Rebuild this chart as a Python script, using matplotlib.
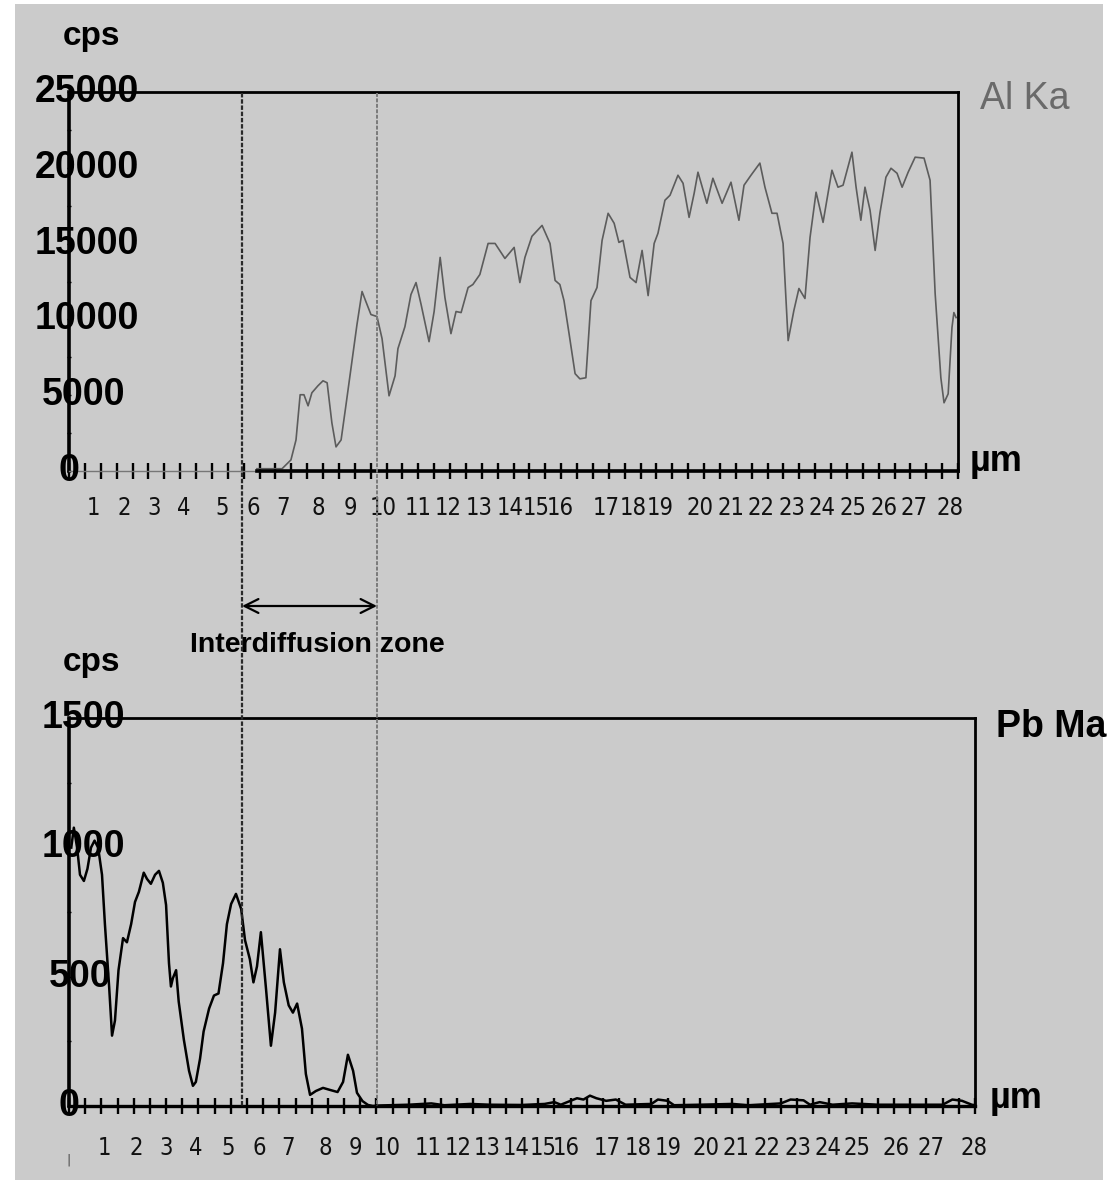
import matplotlib
matplotlib.use("Agg")
import matplotlib.pyplot as plt
from matplotlib.patches import Rectangle, FancyArrowPatch
from matplotlib.ticker import MultipleLocator
import matplotlib.transforms as mtransforms

# Al Ka line scan (top)
al_x = [5.92, 6.71, 6.83, 6.99, 7.15, 7.28, 7.40, 7.53, 7.65, 7.84, 8.00, 8.13, 8.28, 8.41,
        8.57, 8.72, 8.91, 9.07, 9.23, 9.35, 9.51, 9.70, 9.86, 10.08, 10.27, 10.36, 10.58,
        10.77, 10.93, 11.09, 11.34, 11.50, 11.69, 11.84, 12.03, 12.19, 12.35, 12.57, 12.72,
        12.94, 13.20, 13.42, 13.73, 14.02, 14.20, 14.36, 14.58, 14.90, 15.15, 15.31, 15.46,
        15.59, 15.75, 15.94, 16.09, 16.28, 16.44, 16.63, 16.79, 16.98, 17.17, 17.32, 17.45,
        17.67, 17.86, 18.05, 18.24, 18.43, 18.55, 18.77, 18.93, 19.18, 19.34, 19.53, 19.69,
        19.81, 20.09, 20.28, 20.57, 20.85, 21.10, 21.26, 21.48, 21.76, 21.92, 22.14, 22.30,
        22.49, 22.65, 22.83, 22.99, 23.18, 23.34, 23.53, 23.75, 24.03, 24.22, 24.38, 24.66,
        24.79, 24.94, 25.07, 25.23, 25.39, 25.54, 25.73, 25.89, 26.08, 26.24, 26.43, 26.65,
        26.93, 27.12, 27.28, 27.46, 27.56, 27.69, 27.81, 27.87, 27.94]
al_cps = [150, 150, 400, 730, 2050, 5030, 5030, 4300, 5160, 5620, 5950, 5820, 3170, 1590,
          2050, 4300, 7210, 9660, 11840, 11180, 10320, 10190, 8730, 4960, 6280, 8070, 9520,
          11640, 12430, 10980, 8530, 10520, 14090, 11440, 9060, 10520, 10450, 12100, 12300,
          12960, 15010, 15010, 14020, 14750, 12430, 14090, 15480, 16200, 15010, 12570, 12300,
          11240, 9060, 6420, 6080, 6150, 11240, 12100, 15210, 17000, 16340, 15080, 15210,
          12770, 12430, 14550, 11570, 15010, 15680, 17860, 18190, 19510, 18980, 16730, 18320,
          19710, 17660, 19310, 17660, 19050, 16540, 18850, 19510, 20310, 18720, 17000, 17000,
          15010, 8600, 10580, 12040, 11380, 15410, 18390, 16400, 19840, 18720, 18850, 21030,
          18720, 16540, 18720, 17200, 14550, 17000, 19380, 19970, 19640, 18720, 19710, 20700,
          20640, 19180, 11710, 6150, 4500, 5090, 9460, 10450, 10120]

# Pb Ma line scan (bottom)
pb_x = [0.07, 0.15, 0.25, 0.34, 0.46, 0.57, 0.68, 0.79, 0.90, 1.02, 1.11, 1.24, 1.33, 1.42,
        1.53, 1.67, 1.79, 1.92, 2.04, 2.16, 2.31, 2.41, 2.53, 2.66, 2.78, 2.90, 3.00, 3.09,
        3.15, 3.21, 3.31, 3.39, 3.55, 3.71, 3.83, 3.92, 4.05, 4.16, 4.33, 4.48, 4.62, 4.76,
        4.88, 5.01, 5.16, 5.32, 5.44, 5.59, 5.70, 5.81, 5.93, 6.09, 6.24, 6.37, 6.52, 6.64,
        6.79, 6.92, 7.05, 7.20, 7.32, 7.45, 7.63, 7.85, 8.07, 8.30, 8.47, 8.62, 8.78, 8.90,
        9.07, 9.24, 9.39, 9.6, 10.5, 11.2, 11.6, 12.4, 13.0, 14.0, 14.7, 15.0, 15.2, 15.5,
        15.7, 15.9, 16.1, 16.3, 16.6, 16.9, 17.2, 18.0, 18.2, 18.5, 18.7, 19.5, 20.5, 21.0,
        22.0, 22.3, 22.7, 22.9, 23.2, 23.6, 24.2, 25.0, 26.0, 27.0, 27.3, 27.6, 27.9, 28.0]
pb_cps = [999, 1076, 999, 894, 870, 917, 999, 1026, 999, 894, 703, 462, 272, 330,
          525, 649, 633, 703, 789, 828, 902, 878, 859, 894, 909, 863, 777, 552,
          462, 494, 525, 404, 256, 136, 78, 93, 183, 288, 377, 427, 435, 552,
          703, 781, 820, 762, 641, 567, 478, 540, 672, 451, 233, 361, 606, 478,
          389, 361, 396, 299, 124, 43, 58, 70, 62, 54, 93, 198, 136, 51,
          19, 4, 0, 2, 5, 10, 3, 8, 5, 4, 8, 15, 5, 20,
          30, 25, 40, 30, 20, 25, 5, 8, 25, 20, 3, 5, 8, 3,
          10, 25, 22, 5, 15, 5, 10, 5, 5, 5, 25, 20, 5, 3]

# irregular label placement of the instrument software
al_tick_pos = [0.76, 1.73, 2.68, 3.62, 4.82, 5.80, 6.74, 7.84, 8.85, 9.89, 10.99, 11.94, 12.91,
               13.89, 14.71, 15.46, 16.91, 17.76, 18.61, 19.87, 20.85, 21.80, 22.77, 23.72,
               24.69, 25.67, 26.61, 27.75]
pb_tick_pos = [1.11, 2.07, 3.00, 3.92, 4.91, 5.87, 6.77, 7.91, 8.84, 9.83, 11.09, 12.02, 12.92,
               13.81, 14.65, 15.36, 16.63, 17.59, 18.51, 19.69, 20.62, 21.57, 22.53, 23.46,
               24.35, 25.56, 26.64, 27.97]
tick_labels = [str(i) for i in range(1, 29)]

al_yticks = [0, 5000, 10000, 15000, 20000, 25000]
pb_yticks = [0, 500, 1000, 1500]

zone_start, zone_end = 5.45, 9.70  # in um

W, H = 1119, 1180
fig = plt.figure(figsize=(W / 100, H / 100), dpi=100, facecolor="white")


def fx(px):
    return px / W


def fy(py):
    return 1 - py / H


bg = Rectangle((fx(15), 0), fx(1103) - fx(15), fy(4), transform=fig.transFigure,
               facecolor="#cbcbcb", edgecolor="none", zorder=-10)
fig.add_artist(bg)

ax1 = fig.add_axes([fx(69), fy(471), fx(958) - fx(69), fy(92) - fy(471)])
ax2 = fig.add_axes([fx(69), fy(1106), fx(975) - fx(69), fy(718) - fy(1106)])

narrow = ["Liberation Sans Narrow", "DejaVu Sans"]


def style_axes(ax, ymax, ystep, tick_pos, lab_off_px):
    ax.set_facecolor("none")
    ax.set_xlim(0, 28)
    ax.set_ylim(0, ymax)
    for s in ["top", "right"]:
        ax.spines[s].set_linewidth(2)
    ax.spines["left"].set_linewidth(2.6)
    ax.spines["bottom"].set_linewidth(2.4)
    ax.xaxis.set_major_locator(MultipleLocator(0.5))
    ax.yaxis.set_major_locator(MultipleLocator(ystep))
    ax.tick_params(axis="x", direction="inout", length=11, width=1.7, labelbottom=False)
    ax.tick_params(axis="y", direction="inout", length=3, width=1, labelleft=False)
    h = ax.get_position().height * H
    for p, t in zip(tick_pos, tick_labels):
        ax.text(p, -lab_off_px / h, t, transform=ax.get_xaxis_transform(), ha="center",
                va="center", fontsize=17, family=narrow, fontstretch="condensed",
                color="#111111")


style_axes(ax1, 25000, 2500, al_tick_pos, 37)
style_axes(ax2, 1500, 250, pb_tick_pos, 42)

# top axis baseline is faint where there is no signal
ax1.spines["bottom"].set_color("#777777")
ax1.spines["bottom"].set_linewidth(1)
ax1.plot([al_x[0], 28], [0, 0], color="black", lw=2.6, clip_on=False, zorder=3)

ax1.plot(al_x, al_cps, color="#5c5c5c", lw=1.2)
ax2.plot(pb_x, pb_cps, color="black", lw=1.8)


def y_labels(ax, ticks):
    # axis line runs through the second digit of each label
    w = ax.get_position().width * W
    for v in ticks:
        s = str(v)
        if len(s) == 1:
            ax.text(0, v, s, transform=ax.get_yaxis_transform(), ha="center", va="center",
                    fontsize=27, fontweight="bold", family="Liberation Sans")
        else:
            off = 7 * len(s) - 1
            ax.text(-off / w, v, s, transform=ax.get_yaxis_transform(), ha="left",
                    va="center", fontsize=27, fontweight="bold", family="Liberation Sans")


y_labels(ax1, al_yticks)
y_labels(ax2, pb_yticks)

bold = dict(fontweight="bold", family="Liberation Sans", va="center")
fig.text(fx(91), fy(37), "cps", fontsize=24, ha="center", **bold)
fig.text(fx(92), fy(663), "cps", fontsize=24, ha="center", **bold)
fig.text(fx(970), fy(462), "µm", fontsize=26, ha="left", **bold)
fig.text(fx(990), fy(1098), "µm", fontsize=26, ha="left", **bold)
fig.text(fx(980), fy(99), "Al Ka", fontsize=27, ha="left", va="center",
         family="Liberation Sans", color="#6a6a6a")
fig.text(fx(996), fy(727), "Pb Ma", fontsize=27, ha="left", **bold)
fig.text(fx(68), fy(1160), "|", fontsize=9, ha="center", va="center", color="#444444")

# interdiffusion zone markers spanning both scans
tr = mtransforms.blended_transform_factory(ax1.transData, fig.transFigure)
fig.add_artist(plt.Line2D([zone_start, zone_start], [fy(93), fy(1106)], transform=tr,
                          color="#2a2a2a", lw=1.6, ls=(0, (2, 0.8)), zorder=5))
fig.add_artist(plt.Line2D([zone_end, zone_end], [fy(93), fy(1106)], transform=tr,
                          color="#7a7a7a", lw=1.4, ls=(0, (2, 0.8)), zorder=5))
fig.add_artist(FancyArrowPatch(
    (zone_start, fy(606)), (zone_end, fy(606)), transform=tr,
    arrowstyle="<->,head_length=10,head_width=5", color="black", lw=1.6,
    shrinkA=0, shrinkB=0))
fig.text(fx(317), fy(645), "Interdiffusion zone", fontsize=20.5, ha="center", **bold)

fig.savefig("out.png", dpi=100, facecolor="white")
